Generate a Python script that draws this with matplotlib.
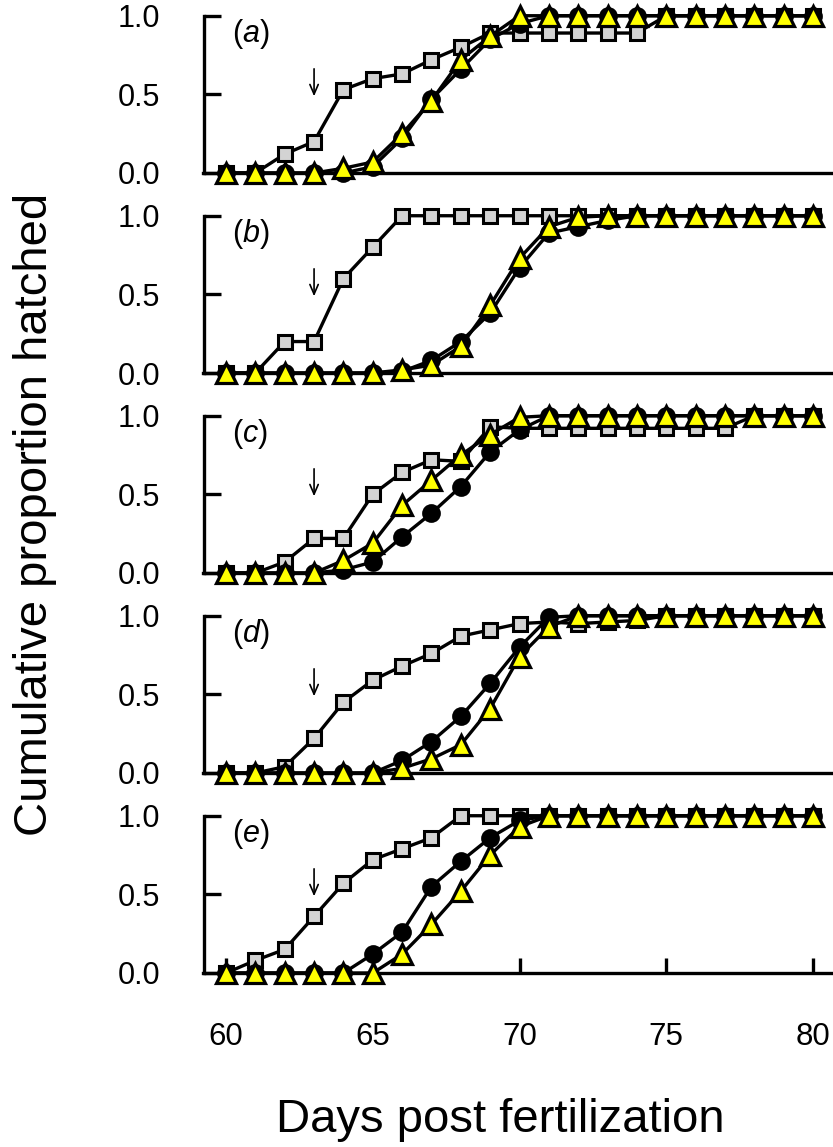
import matplotlib
matplotlib.use('Agg')
import matplotlib.pyplot as plt
import numpy as np

plt.rcParams['font.family'] = ['Liberation Sans', 'DejaVu Sans']
plt.rcParams['mathtext.fontset'] = 'custom'
plt.rcParams['mathtext.rm'] = 'Liberation Sans'
plt.rcParams['mathtext.it'] = 'Liberation Sans:italic'

days = list(range(60, 81))
panels = ['a', 'b', 'c', 'd', 'e']

# grey squares
sq_a = [0, 0, 0.12, 0.2, 0.53, 0.6, 0.63, 0.72, 0.8, 0.89, 0.89, 0.89, 0.89, 0.89, 0.89, 1, 1, 1, 1, 1, 1]
sq_b = [0, 0, 0.2, 0.2, 0.6, 0.8, 1, 1, 1, 1, 1, 1, 1, 1, 1, 1, 1, 1, 1, 1, 1]
sq_c = [0, 0, 0.07, 0.22, 0.22, 0.5, 0.64, 0.72, 0.71, 0.93, 0.92, 0.92, 0.92, 0.92, 0.92, 0.92, 0.92, 0.92, 1, 1, 1]
sq_d = [0, 0, 0.04, 0.22, 0.45, 0.59, 0.68, 0.76, 0.87, 0.91, 0.95, 0.96, 0.95, 0.96, 0.97, 1, 1, 1, 1, 1, 1]
sq_e = [0, 0.08, 0.15, 0.36, 0.57, 0.72, 0.79, 0.86, 1, 1, 1, 1, 1, 1, 1, 1, 1, 1, 1, 1, 1]

# black circles
ci_a = [0, 0, 0, 0, 0, 0.04, 0.22, 0.47, 0.66, 0.85, 0.95, 1, 1, 1, 1, 1, 1, 1, 1, 1, 1]
ci_b = [0, 0, 0, 0, 0, 0, 0.01, 0.08, 0.2, 0.38, 0.67, 0.89, 0.93, 0.97, 1, 1, 1, 1, 1, 1, 1]
ci_c = [0, 0, 0, 0, 0.02, 0.07, 0.23, 0.38, 0.55, 0.77, 0.91, 1, 1, 1, 1, 1, 1, 1, 1, 1, 1]
ci_d = [0, 0, 0, 0, 0, 0, 0.08, 0.2, 0.36, 0.57, 0.8, 0.99, 1, 1, 1, 1, 1, 1, 1, 1, 1]
ci_e = [0, 0, 0, 0, 0, 0.12, 0.26, 0.55, 0.71, 0.86, 0.97, 1, 1, 1, 1, 1, 1, 1, 1, 1, 1]

# yellow triangles
tr_a = [0, 0, 0, 0, 0.03, 0.07, 0.25, 0.46, 0.72, 0.87, 1, 1, 1, 1, 1, 1, 1, 1, 1, 1, 1]
tr_b = [0, 0, 0, 0, 0, 0, 0.02, 0.05, 0.17, 0.43, 0.73, 0.93, 0.99, 1, 1, 1, 1, 1, 1, 1, 1]
tr_c = [0, 0, 0, 0, 0.08, 0.19, 0.43, 0.59, 0.75, 0.88, 0.99, 1, 1, 1, 1, 1, 1, 1, 1, 1, 1]
tr_d = [0, 0, 0, 0, 0, 0, 0.03, 0.09, 0.18, 0.41, 0.74, 0.93, 1, 1, 1, 1, 1, 1, 1, 1, 1]
tr_e = [0, 0, 0, 0, 0, 0, 0.12, 0.31, 0.52, 0.75, 0.93, 1, 1, 1, 1, 1, 1, 1, 1, 1, 1]

squares = [sq_a, sq_b, sq_c, sq_d, sq_e]
circles = [ci_a, ci_b, ci_c, ci_d, ci_e]
triangles = [tr_a, tr_b, tr_c, tr_d, tr_e]

W, H = 833, 1147
fig = plt.figure(figsize=(W / 100, H / 100), dpi=100)

lw = 2.4
for i in range(5):
    bottom_px = 173 + 200 * i
    ax = fig.add_axes([203.5 / W, 1 - bottom_px / H, 629.5 / W, 173 / H])
    ax.set_xlim(59.233, 80.68)
    ax.set_ylim(0, 1.1)

    ax.plot(days, squares[i], color='black', lw=lw, marker='s', ms=9.5,
            mfc='#d3d3d3', mec='black', mew=2.2, clip_on=False, zorder=3)
    ax.plot(days, circles[i], color='black', lw=lw, marker='o', ms=12,
            mfc='black', mec='black', mew=1.5, clip_on=False, zorder=4)
    ax.plot(days, triangles[i], color='black', lw=lw, marker='^', ms=14,
            mfc='#ffff00', mec='black', mew=2.3, clip_on=False, zorder=5)

    for s in ['top', 'right']:
        ax.spines[s].set_visible(False)
    ax.spines['left'].set_bounds(0, 1)
    ax.spines['left'].set_linewidth(2.4)
    ax.spines['bottom'].set_linewidth(2.4)

    ax.set_yticks([0, 0.5, 1.0])
    ax.set_yticklabels(['0.0', '0.5', '1.0'])
    ax.tick_params(axis='y', direction='in', length=12, width=2.4, pad=31,
                   labelsize=22)
    if i == 4:
        ax.set_xticks([60, 65, 70, 75, 80])
        ax.tick_params(axis='x', direction='in', length=11, width=2.4, pad=35,
                       labelsize=22.5)
    else:
        ax.set_xticks([])

    ax.text(60.2, 0.885, r'($\mathit{' + panels[i] + r'}$)', fontsize=22,
            va='center', ha='left')
    ax.annotate('', xy=(63, 0.47), xytext=(63, 0.68),
                arrowprops=dict(arrowstyle='->,head_length=0.7,head_width=0.3',
                                lw=1.2, color='black'))

fig.text(500 / W, 1 - 1132 / H, 'Days post fertilization', fontsize=34,
         ha='center', va='baseline')
fig.text(35 / W, 1 - 514 / H, 'Cumulative proportion hatched', fontsize=34,
         rotation=90, ha='center', va='center')

fig.savefig('out.png', dpi=100)
